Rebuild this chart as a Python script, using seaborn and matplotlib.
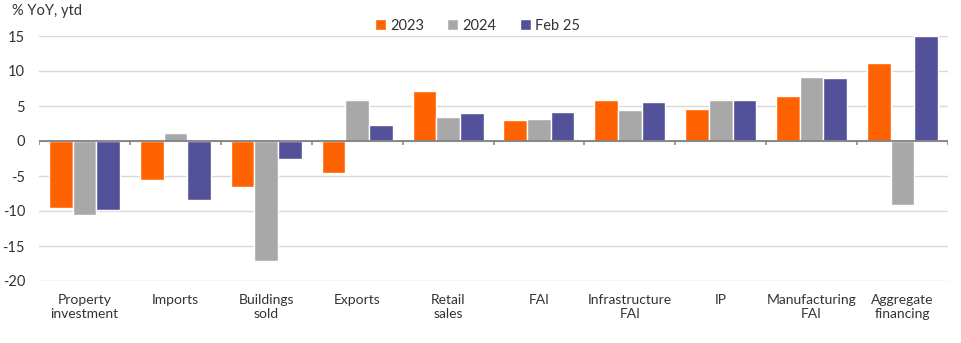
import matplotlib
matplotlib.use("Agg")
import matplotlib.pyplot as plt
import seaborn as sns
import pandas as pd

categories = ["Property\ninvestment", "Imports", "Buildings\nsold", "Exports", "Retail\nsales",
              "FAI", "Infrastructure\nFAI", "IP", "Manufacturing\nFAI", "Aggregate\nfinancing"]
series_names = ["2023", "2024", "Feb 25"]
values_2023 = [-9.6, -5.5, -6.5, -4.6, 7.2, 3.0, 5.9, 4.6, 6.5, 11.1]
values_2024 = [-10.6, 1.1, -17.1, 5.9, 3.5, 3.2, 4.4, 5.8, 9.2, -9.2]
values_feb25 = [-9.8, -8.4, -2.6, 2.3, 4.0, 4.1, 5.6, 5.9, 9.0, 15.0]
y_ticks = [-20, -15, -10, -5, 0, 5, 10, 15]

colors = ["#FF6200", "#A8A8A8", "#525199"]
text_color = "#333333"

df = pd.DataFrame({
    "category": categories * 3,
    "series": [s for s in series_names for _ in categories],
    "value": values_2023 + values_2024 + values_feb25,
})

sns.set_theme(style="white")
plt.rcParams["font.family"] = ["Lato", "DejaVu Sans"]

fig = plt.figure(figsize=(9.61, 3.43), dpi=100)
ax = fig.add_axes([39 / 961, 1 - 281 / 343, (948 - 39) / 961, (281 - 36) / 343])

sns.barplot(data=df, x="category", y="value", hue="series", order=categories,
            hue_order=series_names, palette=colors, saturation=1, width=0.78,
            gap=0, ax=ax, legend=True, errorbar=None)

ax.set_ylim(-20, 15)
ax.set_xlim(-0.5, len(categories) - 0.5)
ax.set_yticks(y_ticks)
ax.set_yticklabels([str(t) for t in y_ticks])
ax.grid(axis="y", color="#D9D9D9", linewidth=1)
ax.set_axisbelow(True)
for sp in ax.spines.values():
    sp.set_visible(False)

ax.set_xlabel("")
ax.set_ylabel("")
ax.tick_params(axis="x", length=0, pad=9, labelsize=10, labelcolor=text_color)
ax.tick_params(axis="y", length=0, pad=10, labelsize=10.5, labelcolor=text_color)

# zero axis with separators between categories
ax.axhline(0, color="#808080", linewidth=1.3, zorder=3)
bounds = [i - 0.5 for i in range(len(categories) + 1)]
ax.vlines(bounds, -0.55, 0, color="#808080", linewidth=1.1, zorder=3)

handles, labels = ax.get_legend_handles_labels()
ax.get_legend().remove()
fig.legend(handles, labels, loc="center", bbox_to_anchor=(0.497, 0.925), ncol=3,
           frameon=False, handlelength=0.75, handleheight=0.75, handletextpad=0.3,
           columnspacing=1.6, fontsize=10.5, labelcolor=text_color)

fig.text(12 / 961, 1 - 11 / 343, "% YoY, ytd", ha="left", va="center",
         fontsize=10.5, color=text_color)

fig.savefig("out.png", dpi=100)
